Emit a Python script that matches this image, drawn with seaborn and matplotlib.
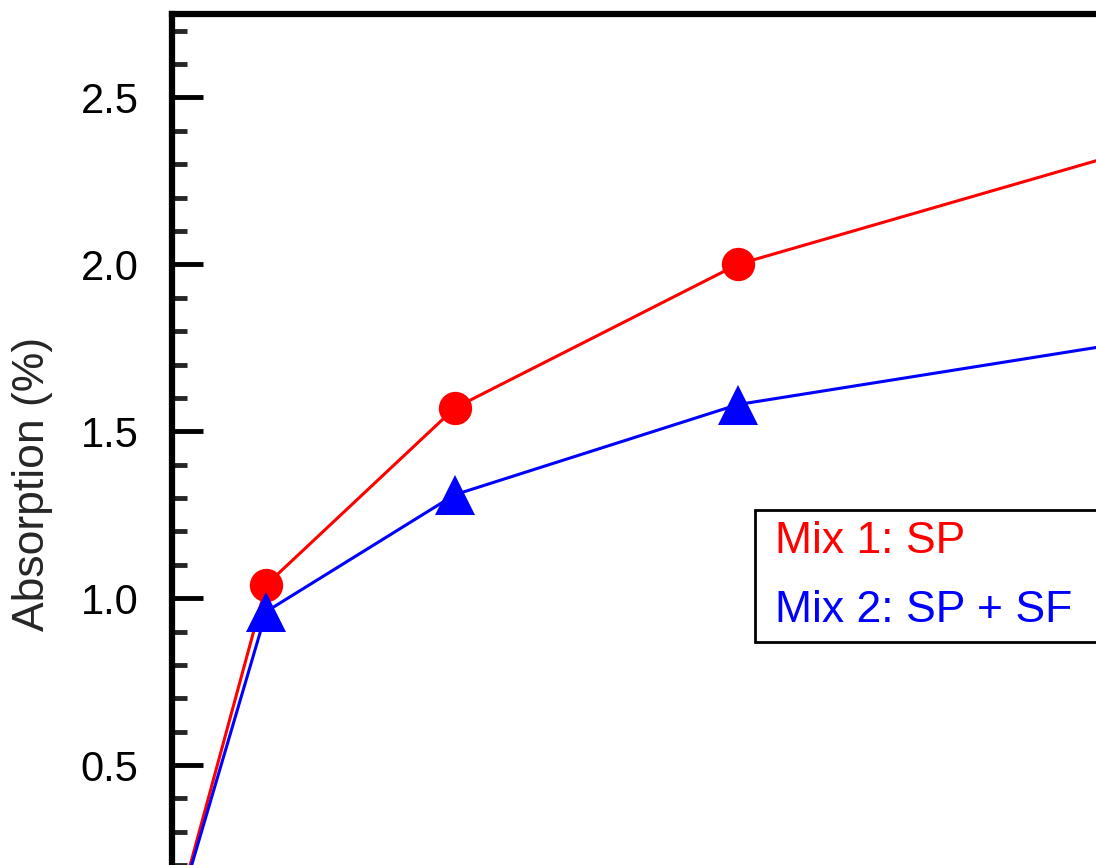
import seaborn as sns
import pandas as pd
import matplotlib
matplotlib.use("Agg")
import matplotlib.pyplot as plt
from matplotlib.ticker import MultipleLocator

# readings (last point lies outside the visible crop)
time_h = [0, 1, 3, 6, 24]
mix1_sp = [0.0, 1.04, 1.57, 2.00, 3.47]
mix2_sp_sf = [0.0, 0.96, 1.31, 1.58, 2.39]
labels = ["Mix 1: SP", "Mix 2: SP + SF"]
colors = ["#ff0000", "#0000ff"]
yticks = [0.5, 1.0, 1.5, 2.0, 2.5]

df = pd.DataFrame({
    "Time": time_h * 2,
    "Absorption": mix1_sp + mix2_sp_sf,
    "Mix": [labels[0]] * len(time_h) + [labels[1]] * len(time_h),
})

sns.set_style("ticks")
plt.rcParams['font.family'] = ['Liberation Sans', 'DejaVu Sans']

fig = plt.figure(figsize=(10.96, 8.65), dpi=100)
# the reference is a crop: axes run past the right and bottom edges
W, H = 1096, 865
x0_px, top_px, y0_px = 172, 14, 932
px_per_x = 94.3
xmax = 26
ax_w = xmax * px_per_x
ax_h = y0_px - top_px
ax = fig.add_axes([x0_px / W, (H - y0_px) / H, ax_w / W, ax_h / H])

sns.lineplot(data=df, x="Time", y="Absorption", hue="Mix", style="Mix",
             palette=dict(zip(labels, colors)),
             markers={labels[0]: "o", labels[1]: "^"}, dashes=False,
             markersize=24, markeredgewidth=0, linewidth=2.2, ax=ax)
for ln in ax.lines:
    if ln.get_marker() == "^":
        ln.set_markersize(29)

ax.set_xlim(0, xmax)
ax.set_ylim(0, 2.75)
ax.set_yticks(yticks)
ax.yaxis.set_minor_locator(MultipleLocator(0.1))
ax.tick_params(axis="y", which="major", direction="in", length=22, width=3.5,
               labelsize=30, pad=24, colors="black")
ax.tick_params(axis="y", which="minor", direction="in", length=11, width=3.5)
ax.tick_params(axis="x", which="both", bottom=False, labelbottom=False)
for s in ax.spines.values():
    s.set_linewidth(4.5)
    s.set_color("black")
ax.set_xlabel("")
ax.set_ylabel("Absorption (%)", fontsize=32)
ax.yaxis.set_label_coords((53 - x0_px) / ax_w, (y0_px - 484) / ax_h)

ax.get_legend().remove()
handles, _ = ax.get_legend_handles_labels()
# legend box starts at x=755, y=510 and runs past the right edge of the crop
lx0 = (755 - x0_px) / ax_w
lx1 = (1115 - x0_px) / ax_w
ly1 = (y0_px - 510) / ax_h
leg = ax.legend(handles=handles, labels=labels, loc="upper left",
                bbox_to_anchor=(lx0, ly1 - 0.2, lx1 - lx0, 0.2), mode="expand",
                frameon=True, fancybox=False,
                edgecolor="black", framealpha=1, fontsize=32, handlelength=0,
                handletextpad=0.2, borderpad=0.25, labelspacing=0.62,
                borderaxespad=0, labelcolor=colors)
leg.get_frame().set_linewidth(2)
for h in leg.legend_handles:
    h.set_visible(False)

fig.savefig("out.png", dpi=100)
